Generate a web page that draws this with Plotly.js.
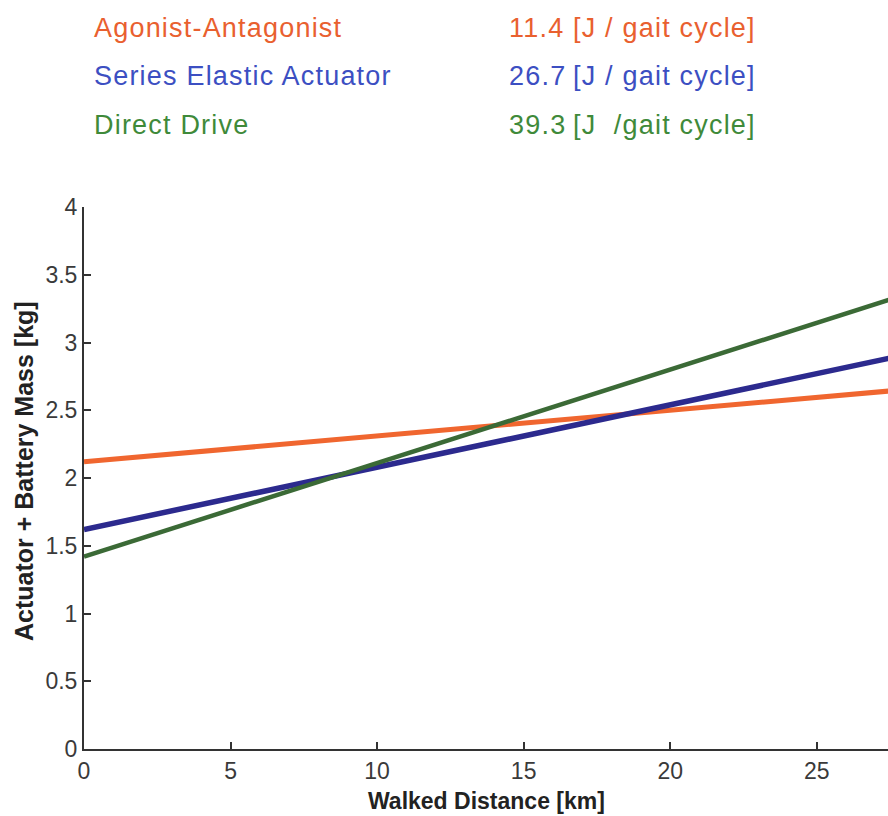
<!DOCTYPE html>
<html>
<head>
<meta charset="utf-8">
<script src="https://cdn.plot.ly/plotly-3.0.1.min.js"></script>
<style>html,body{margin:0;padding:0;background:#fff;}#chart{width:888px;height:816px;}</style>
</head>
<body>
<div id="chart"></div>
<script>
// Data
const distanceKm = [0, 30];
const massAgonistAntagonist = [2.12, 2.69];
const massSeriesElastic = [1.62, 3.00];
const massDirectDrive = [1.42, 3.49];

const seriesNames = ["Agonist-Antagonist", "Series Elastic Actuator", "Direct Drive"];
const energyValues = ["11.4", "26.7", "39.3"];
const energyUnits = ["[J / gait cycle]", "[J / gait cycle]", "[J  /gait cycle]"];

const xTicks = [0, 5, 10, 15, 20, 25];
const yTicks = [0, 0.5, 1, 1.5, 2, 2.5, 3, 3.5, 4];
const yTickText = ["0", "0.5", "1", "1.5", "2", "2.5", "3", "3.5", "4"];

const lineColors = ["#f0662f", "#2c2a8e", "#3b6a36"];
const textColors = ["#e9602f", "#3c4fc2", "#3f8a3a"];

const traces = [
  {x: distanceKm, y: massAgonistAntagonist, name: seriesNames[0], mode: "lines", line: {color: lineColors[0], width: 5}},
  {x: distanceKm, y: massSeriesElastic, name: seriesNames[1], mode: "lines", line: {color: lineColors[1], width: 5.5}},
  {x: distanceKm, y: massDirectDrive, name: seriesNames[2], mode: "lines", line: {color: lineColors[2], width: 4.5}}
];

const L = 84, W = 888, T = 207, B = 67, H = 816;
const plotW = W - L, plotH = H - T - B;
function px(xp) { return (xp - L) / plotW; }
function py(yp) { return (H - B - yp) / plotH; }

const rowY = [28, 76, 125];
const font = "Liberation Sans, Arial, sans-serif";
const annotations = [];
for (let i = 0; i < 3; i++) {
  annotations.push({xref: "paper", yref: "paper", x: px(92), y: py(rowY[i]), xanchor: "left", yanchor: "middle", align: "left",
    text: seriesNames[i], showarrow: false, font: {family: font, size: 27, color: textColors[i]}});
  annotations.push({xref: "paper", yref: "paper", x: px(507), y: py(rowY[i]), xanchor: "left", yanchor: "middle", align: "left",
    text: energyValues[i], showarrow: false, font: {family: font, size: 27, color: textColors[i]}});
  annotations.push({xref: "paper", yref: "paper", x: px(571), y: py(rowY[i]), xanchor: "left", yanchor: "middle", align: "left",
    text: energyUnits[i].replace(/  /g, "&nbsp; "), showarrow: false, font: {family: font, size: 27, color: textColors[i]}});
}
annotations.push({xref: "paper", yref: "paper", x: px(486), y: py(801), xanchor: "center", yanchor: "middle",
  text: "<b>Walked Distance [km]</b>", showarrow: false, font: {family: font, size: 23, color: "#222"}});
annotations.push({xref: "paper", yref: "paper", x: px(24), y: py(471), xanchor: "center", yanchor: "middle",
  text: "<b>Actuator + Battery Mass [kg]</b>", textangle: -90, showarrow: false, font: {family: font, size: 25, color: "#222"}});

const layout = {
  width: W, height: H,
  margin: {l: L, r: 0, t: T, b: B, pad: 0},
  paper_bgcolor: "#fff", plot_bgcolor: "#fff",
  showlegend: false,
  xaxis: {range: [0, plotW / 29.31], tickvals: xTicks, ticks: "inside", ticklen: 7, tickwidth: 2, tickcolor: "#333",
    showline: true, linecolor: "#333", linewidth: 2, showgrid: false, zeroline: false,
    tickfont: {family: font, size: 23, color: "#3a3a3a"}},
  yaxis: {range: [0, 4], tickvals: yTicks, ticktext: yTickText, ticks: "inside", ticklen: 7, tickwidth: 2, tickcolor: "#333",
    showline: true, linecolor: "#333", linewidth: 2, showgrid: false, zeroline: false,
    tickfont: {family: font, size: 23, color: "#3a3a3a"}},
  annotations: annotations
};

Plotly.newPlot("chart", traces, layout, {displayModeBar: false, staticPlot: true}).then(function () {
  document.querySelectorAll("#chart .annotation").forEach(function (g) {
    const idx = parseInt(g.getAttribute("data-index"), 10);
    if (idx < 9) {
      g.querySelectorAll("text").forEach(function (t) { t.style.letterSpacing = "1.2px"; });
    }
  });
});
</script>
</body>
</html>
